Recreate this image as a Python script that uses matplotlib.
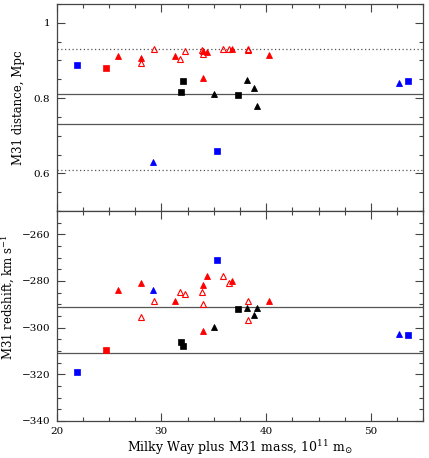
import matplotlib
matplotlib.use("Agg")
import matplotlib.pyplot as plt
from matplotlib.ticker import MultipleLocator, FuncFormatter

# ---- data ----
# red filled triangles
rft_mass = [25.9, 28.1, 31.3, 34.0, 34.4, 34.0, 36.7, 40.3]
rft_dist = [0.913, 0.906, 0.912, 0.925, 0.922, 0.854, 0.930, 0.915]
rft_vel = [-283.9, -280.7, -288.7, -281.9, -277.7, -301.6, -279.9, -288.6]
# red open triangles
rot_mass = [28.1, 29.3, 31.8, 32.3, 33.9, 34.0, 35.9, 36.5, 38.3, 38.3]
rot_dist = [0.894, 0.931, 0.904, 0.925, 0.927, 0.918, 0.930, 0.930, 0.930, 0.929]
rot_vel = [-295.6, -288.7, -284.7, -285.7, -284.7, -289.7, -277.7, -280.9, -288.7, -296.9]
# red square
rs_mass = [24.7]
rs_dist = [0.881]
rs_vel = [-309.7]
# black squares
ks_mass = [31.9, 32.1, 37.3]
ks_dist = [0.817, 0.846, 0.808]
ks_vel = [-306.0, -307.9, -292.0]
# black triangles
kt_mass = [35.0, 38.2, 38.8, 39.1]
kt_dist = [0.812, 0.847, 0.828, 0.780]
kt_vel = [-299.6, -291.7, -294.7, -291.6]
# blue squares
bs_mass = [22.0, 35.3, 53.5]
bs_dist = [0.888, 0.660, 0.845]
bs_vel = [-318.9, -271.1, -303.0]
# blue triangles
bt_mass = [29.2, 52.7]
bt_dist = [0.631, 0.841]
bt_vel = [-283.9, -302.7]

dist_solid = [0.81, 0.73]
dist_dotted = [0.93, 0.61]
vel_solid = [-291, -311]

plt.rcParams['font.family'] = ['DejaVu Serif']
plt.rcParams['font.size'] = 8
plt.rcParams['axes.unicode_minus'] = True
plt.rcParams['mathtext.fontset'] = 'dejavuserif'

W, H = 429, 458
fig = plt.figure(figsize=(W / 100, H / 100), dpi=100)
left = 56.5 / W
width = (423.3 - 56.5) / W
ax1 = fig.add_axes([left, 1 - 211 / H, width, (211 - 4) / H])
ax2 = fig.add_axes([left, 1 - 421 / H, width, (421 - 211) / H])

spine_col = '#444444'
line_col = '#555555'

def style(ax):
    ax.set_xlim(20, 55)
    ax.xaxis.set_major_locator(MultipleLocator(10))
    ax.xaxis.set_minor_locator(MultipleLocator(2.5))
    ax.tick_params(which='both', direction='in', top=True, right=True,
                   color=spine_col, width=0.8, labelsize=7.5, pad=4.5)
    ax.tick_params(which='major', length=5.5)
    ax.tick_params(which='minor', length=3)
    for s in ax.spines.values():
        s.set_color(spine_col)
        s.set_linewidth(0.9)

def plot_panel(ax, idx):
    tri = dict(marker='^', ms=4.8, mew=0.6, ls='none')
    sq = dict(marker='s', ms=4.0, mew=0.5, ls='none')
    sets = [
        (rft_mass, [rft_dist, rft_vel][idx], dict(color='red', **tri)),
        (rot_mass, [rot_dist, rot_vel][idx], dict(mfc='none', mec='red', **{**tri, 'mew': 0.8})),
        (rs_mass, [rs_dist, rs_vel][idx], dict(color='red', **sq)),
        (ks_mass, [ks_dist, ks_vel][idx], dict(color='black', **sq)),
        (kt_mass, [kt_dist, kt_vel][idx], dict(color='black', **tri)),
        (bs_mass, [bs_dist, bs_vel][idx], dict(color='blue', **sq)),
        (bt_mass, [bt_dist, bt_vel][idx], dict(color='blue', **tri)),
    ]
    for xs, ys, kw in sets:
        ax.plot(xs, ys, zorder=3, **kw)

# top panel
style(ax1)
ax1.set_ylim(0.5, 1.05)
ax1.yaxis.set_major_locator(MultipleLocator(0.2))
ax1.yaxis.set_minor_locator(MultipleLocator(0.05))
ax1.yaxis.set_major_formatter(FuncFormatter(lambda v, p: ('%g' % round(v, 2))))
ax1.tick_params(labelbottom=False)
for v in dist_solid:
    ax1.axhline(v, color=line_col, lw=0.9, zorder=1)
for v in dist_dotted:
    ax1.axhline(v, color=line_col, lw=0.9, ls=(0, (1, 2)), zorder=1)
plot_panel(ax1, 0)
ax1.set_ylabel('M31 distance, Mpc', fontsize=8.5, labelpad=6)

# bottom panel
style(ax2)
ax2.set_ylim(-340, -250)
ax2.yaxis.set_major_locator(MultipleLocator(20))
ax2.yaxis.set_minor_locator(MultipleLocator(5))
for v in vel_solid:
    ax2.axhline(v, color=line_col, lw=0.9, zorder=1)
plot_panel(ax2, 1)
ax2.set_ylabel('M31 redshift, km s$^{-1}$', fontsize=8.5, labelpad=3)
ax2.yaxis.label.set_y(0.59)
ax2.set_xlabel('Milky Way plus M31 mass, 10$^{11}$ m$_{\\odot}$', fontsize=9, labelpad=1)

fig.savefig('out.png', dpi=100)
